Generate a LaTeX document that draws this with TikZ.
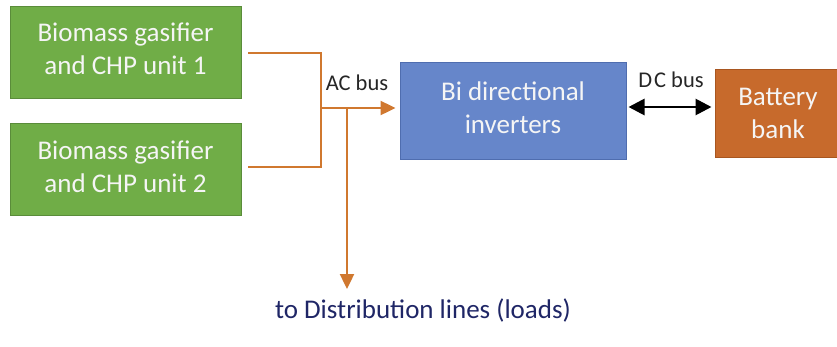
\documentclass[tikz,border=0pt]{standalone}
\usepackage{fontspec}
\setmainfont{Carlito}
\usetikzlibrary{arrows.meta}
\definecolor{gasgreen}{HTML}{70AD47}
\definecolor{gasedge}{HTML}{5A8C3A}
\definecolor{invblue}{HTML}{6686CA}
\definecolor{invedge}{HTML}{4F6DAF}
\definecolor{batorange}{HTML}{C76A2C}
\definecolor{batedge}{HTML}{A85620}
\definecolor{acwire}{HTML}{D0782F}
\definecolor{loadtext}{HTML}{1F2666}
\tikzset{
  boxtext/.style={text=white!96!black, font=\fontsize{27}{33}\selectfont, align=center, inner sep=0pt},
  unitbox/.style={draw=gasedge, fill=gasgreen, line width=1pt, minimum width=231pt, minimum height=92pt, boxtext, text depth=6pt},
  invbox/.style={draw=invedge, fill=invblue, line width=1pt, minimum width=226pt, minimum height=97pt, boxtext, text depth=6pt},
  batbox/.style={draw=batedge, fill=batorange, line width=1pt, minimum width=126pt, minimum height=88pt, boxtext, text depth=-3pt},
  acline/.style={draw=acwire, line width=2.4pt},
  acarrow/.style={acline, -{Triangle[length=15pt,width=14pt]}},
  dcarrow/.style={draw=black, line width=2.8pt, {Triangle[length=16pt,width=16pt]}-{Triangle[length=16pt,width=16pt]}},
  buslabel/.style={font=\fontsize{22.5}{26}\selectfont, text=black!85, inner sep=0pt, anchor=base},
}
\begin{document}
\begin{tikzpicture}[x=1pt, y=-1pt]
  \useasboundingbox (0,0) rectangle (837,346);

  % sources, converter and storage
  \node[unitbox] (g1) at (125.5,52) {Biomass gasifier\\and CHP unit 1};
  \node[unitbox] (g2) at (125.5,169.5) {Biomass gasifier\\and CHP unit 2};
  \node[invbox] (inv) at (513,110.5) {Bi directional\\inverters};
  \node[batbox] (bat) at (778,113) {Battery\\bank};

  % AC bus junction points
  \coordinate (o1) at (248,53);
  \coordinate (o2) at (248,167);
  \coordinate (bus) at (321,108);
  \coordinate (tap) at (347,108);
  \coordinate (load) at (347,289);

  \draw[acline] (o1) -- (bus |- o1) -- (bus |- o2) -- (o2);
  \draw[acarrow] (bus) -- ([xshift=-4pt]inv.west |- bus);
  \draw[acarrow] (tap) -- (load);

  % DC link between inverters and batteries
  \draw[dcarrow] ([xshift=2pt]inv.east |- 0,107) -- ([xshift=-3pt]bat.west |- 0,107);

  % labels
  \node[buslabel] (acl) at (357,90) {AC bus};
  \node[buslabel] (dcl) at (671,87) {D\kern2pt C bus};
  \node[font=\fontsize{27}{32}\selectfont, text=loadtext, inner sep=0pt] (lt) at (423,310) {to Distribution lines (loads)};
\end{tikzpicture}
\end{document}
